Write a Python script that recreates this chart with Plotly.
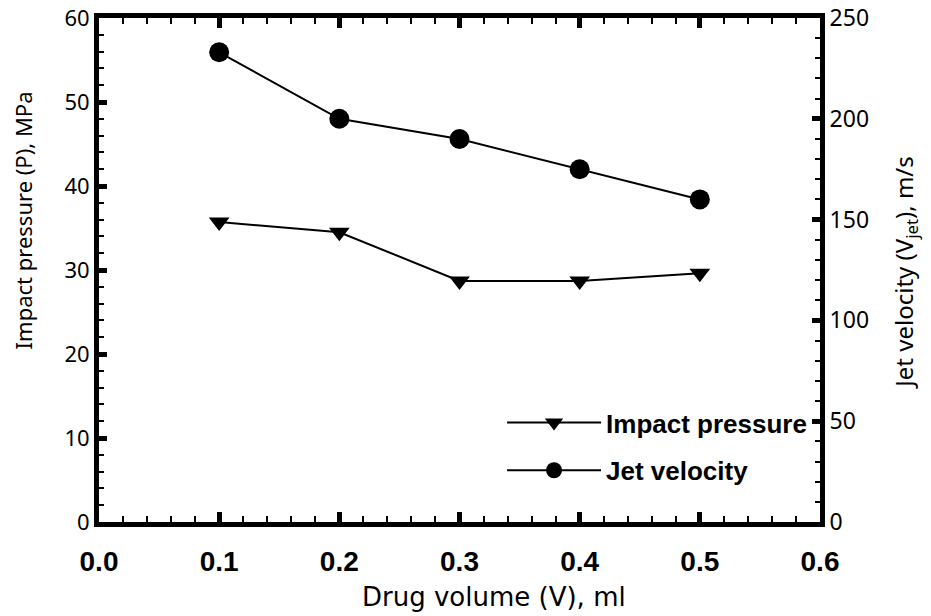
import plotly.graph_objects as go

volume = [0.1, 0.2, 0.3, 0.4, 0.5]
impact_pressure = [35.7, 34.5, 28.7, 28.7, 29.6]
jet_velocity = [233, 200, 190, 175, 160]

x_title = "Drug volume (V), ml"
y_title = "Impact pressure (P), MPa"
y2_title = "Jet velocity (V<sub>jet</sub>), m/s"

boldf = "Liberation Sans, Arial"
sans = "Noto Sans, Open Sans, DejaVu Sans"
wide = "DejaVu Sans, Verdana"

fig = go.Figure()
fig.add_trace(go.Scatter(
    x=volume, y=impact_pressure, name="Impact pressure", mode="lines+markers",
    line=dict(color="black", width=2),
    marker=dict(symbol="triangle-down", size=18, color="black"),
    legendgroup="a", yaxis="y"))
fig.add_trace(go.Scatter(
    x=volume, y=jet_velocity, name="Jet velocity", mode="lines+markers",
    line=dict(color="black", width=2),
    marker=dict(symbol="circle", size=20, color="black"),
    legendgroup="b", yaxis="y2"))

fig.update_layout(
    width=931, height=616,
    margin=dict(l=99, r=111, t=18, b=94, autoexpand=False),
    paper_bgcolor="white", plot_bgcolor="white",
    showlegend=True,
    legend=dict(x=0.559, y=0.244, xanchor="left", yanchor="top",
                font=dict(family=boldf, size=26, color="black", weight="bold"),
                bgcolor="rgba(0,0,0,0)", itemwidth=94, tracegroupgap=11,
                traceorder="grouped"),
    xaxis=dict(range=[0, 0.6], dtick=0.1, tickformat=".1f", automargin=False,
               showline=True, linewidth=5, linecolor="black", mirror="ticks",
               ticks="inside", ticklen=10, tickwidth=5, tickcolor="black",
               minor=dict(dtick=0.02, ticks="inside", ticklen=6, tickwidth=2, tickcolor="black"),
               showgrid=False, zeroline=False, ticklabeloverflow="allow",
               tickfont=dict(family=boldf, size=28, color="black", weight="bold"),
               ticklabelstandoff=10),
    yaxis=dict(range=[0, 60], dtick=10, automargin=False,
               showline=True, linewidth=5, linecolor="black",
               ticks="inside", ticklen=8, tickwidth=5, tickcolor="black",
               minor=dict(dtick=2, ticks="inside", ticklen=5, tickwidth=2, tickcolor="black"),
               showgrid=False, zeroline=False, ticklabeloverflow="allow",
               tickfont=dict(family=sans, size=22, color="black")),
    yaxis2=dict(range=[0, 250], dtick=50, overlaying="y", side="right", automargin=False,
                showline=True, linewidth=5, linecolor="black",
                ticks="inside", ticklen=8, tickwidth=5, tickcolor="black",
                minor=dict(dtick=10, ticks="inside", ticklen=5, tickwidth=2, tickcolor="black"),
                showgrid=False, zeroline=False, ticklabeloverflow="allow",
                tickfont=dict(family=sans, size=23, color="black")),
)

fig.add_annotation(text=x_title, xref="paper", yref="paper", x=0.5478, y=-0.1485,
                   xanchor="center", yanchor="middle", showarrow=False,
                   font=dict(family=wide, size=26, color="black"))
fig.add_annotation(text=y_title, xref="paper", yref="paper", x=-0.105, y=0.599,
                   xanchor="center", yanchor="middle", showarrow=False, textangle=-90,
                   font=dict(family=sans, size=22, color="black"))
fig.add_annotation(text=y2_title, xref="paper", yref="paper", x=1.1175, y=0.496,
                   xanchor="center", yanchor="middle", showarrow=False, textangle=-90,
                   font=dict(family=sans, size=24, color="black"))

fig.write_html("out.html", config={"displayModeBar": False},
               post_script="document.body.style.margin='0';")
